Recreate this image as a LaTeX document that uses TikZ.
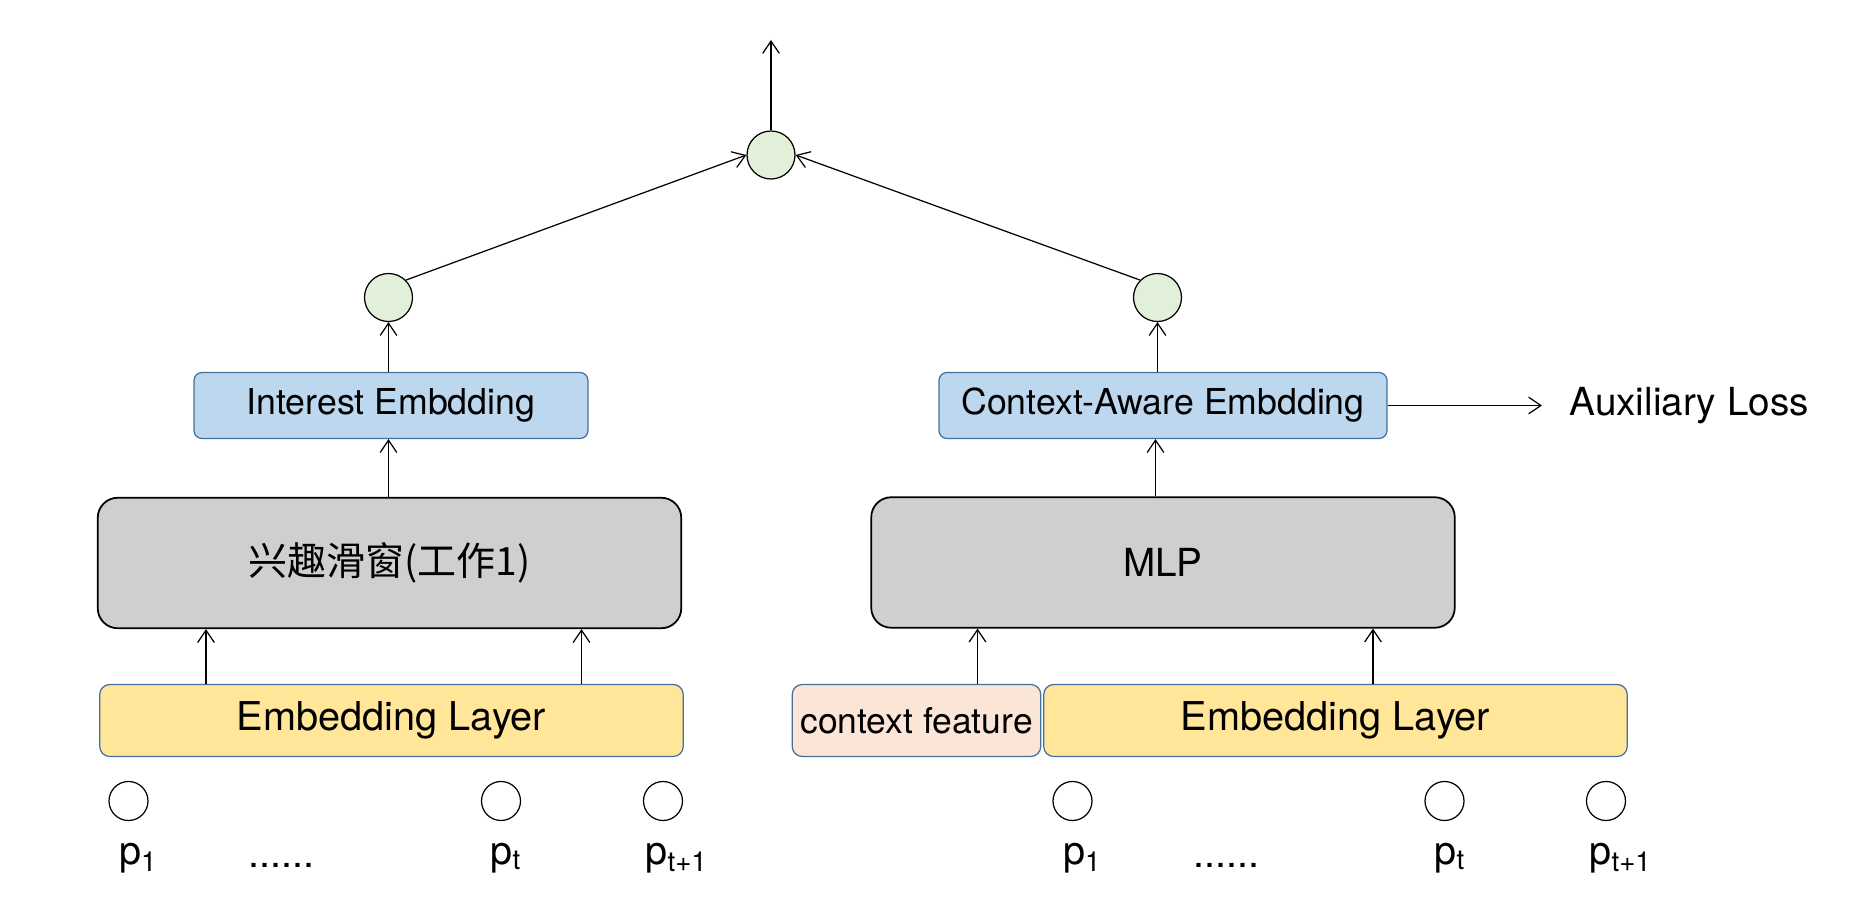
\documentclass[tikz,border=0pt]{standalone}
\usepackage{fontspec}
\setmainfont{TeX Gyre Heros}
\newfontfamily\cjk{Noto Sans CJK SC}
\usepackage{tikz}
\usetikzlibrary{arrows.meta, positioning}
\usepackage{xcolor}
\definecolor{boxblue}{HTML}{BDD7EE}
\definecolor{edgeblue}{HTML}{41719C}
\definecolor{layeryellow}{HTML}{FFE699}
\definecolor{ctxpink}{HTML}{FBE5D6}
\definecolor{netgrey}{HTML}{D0CECE}
\definecolor{sumgreen}{HTML}{E2F0D9}

\begin{document}
\begin{tikzpicture}[
        >={Straight Barb[length=7pt,width=9.5pt]}, line width=0.7pt,
        embbox/.style={draw=edgeblue, fill=boxblue, rounded corners=0.16cm, minimum height=1.32cm, inner sep=0pt, font=\fontsize{20.3}{23}\selectfont},
        layer/.style={draw=edgeblue, fill=layeryellow, rounded corners=0.2cm, minimum width=11.67cm, minimum height=1.44cm, inner sep=0pt, font=\fontsize{22.6}{26}\selectfont},
        ctxbox/.style={draw=edgeblue, fill=ctxpink, rounded corners=0.2cm, minimum width=4.97cm, minimum height=1.44cm, inner sep=0pt, font=\fontsize{20.2}{23}\selectfont},
        netbox/.style={draw, line width=1pt, fill=netgrey, rounded corners=0.4cm, minimum width=11.67cm, minimum height=2.61cm, font=\fontsize{22}{26}\selectfont},
        sumnode/.style={circle, draw, fill=sumgreen, minimum size=0.96cm, inner sep=0pt},
        item/.style={circle, draw, minimum size=0.78cm, inner sep=0pt},
        plabel/.style={anchor=base west, inner sep=0pt, font=\fontsize{22.5}{26}\selectfont}
    ]
        \useasboundingbox (0,0) rectangle (37.2,18.46);

        % Left branch
        \node[layer] (embL) at (7.83,4.05) {Embedding Layer};
        \node[netbox] (window) at (7.79,7.20) {\cjk\fontsize{22.2}{26}\selectfont 兴趣滑窗(工作1)};
        \node[embbox, minimum width=7.88cm] (interest) at (7.82,10.35) {Interest Embdding};
        \node[sumnode] (sumL) at (7.77,12.51) {};

        % Right branch
        \node[ctxbox] (ctx) at (18.33,4.05) {context feature};
        \node[layer] (embR) at (26.71,4.05) {Embedding Layer};
        \node[netbox] (mlp) at (23.26,7.21) {MLP};
        \node[embbox, minimum width=8.96cm] (aware) at (23.26,10.35) {Context-Aware Embdding};
        \node[sumnode] (sumR) at (23.15,12.51) {};
        \coordinate (auxend) at (30.84,10.35);
        \node[right=0.54cm of auxend, inner sep=0pt, font=\fontsize{22}{26}\selectfont] (aux) {Auxiliary Loss};

        % Top
        \node[sumnode] (top) at (15.42,15.36) {};
        \coordinate (out) at (15.42,17.66);

        % Inputs
        \node[item] (pL1) at (2.57,2.44) {};
        \node[item] (pLt) at (10.02,2.44) {};
        \node[item] (pLn) at (13.26,2.44) {};
        \node[item] (pR1) at (21.45,2.44) {};
        \node[item] (pRt) at (28.89,2.44) {};
        \node[item] (pRn) at (32.12,2.44) {};

        \node[plabel] (lL1) at (2.37,1.18) {p\textsubscript{1}};
        \node[plabel] (dotsL) at (4.96,1.12) {......};
        \node[plabel] (lLt) at (9.80,1.18) {p\textsubscript{t}};
        \node[plabel] (lLn) at (12.90,1.18) {p\textsubscript{t+1}};
        \node[plabel] (lR1) at (21.25,1.18) {p\textsubscript{1}};
        \node[plabel] (dotsR) at (23.86,1.12) {......};
        \node[plabel] (lRt) at (28.68,1.18) {p\textsubscript{t}};
        \node[plabel] (lRn) at (31.78,1.18) {p\textsubscript{t+1}};

        % Connectors
        \draw[->] (4.12,0 |- embL.north) -- (4.12,0 |- window.south);
        \draw[->] (11.63,0 |- embL.north) -- (11.63,0 |- window.south);
        \draw[->] (window.north -| sumL) -- (interest.south -| sumL);
        \draw[->] (interest.north -| sumL) -- (sumL.south);

        \draw[->] (19.55,0 |- ctx.north) -- (19.55,0 |- mlp.south);
        \draw[->] (27.46,0 |- embR.north) -- (27.46,0 |- mlp.south);
        \draw[->] (mlp.north -| 23.11,0) -- (aware.south -| 23.11,0);
        \draw[->] (aware.north -| sumR) -- (sumR.south);
        \draw[->] (aware.east) -- (auxend);

        \draw[->] (sumL.north east) -- (top.west);
        \draw[->] (sumR.north west) -- (top.east);
        \draw[->] (top.north) -- (out);
    \end{tikzpicture}
\end{document}
